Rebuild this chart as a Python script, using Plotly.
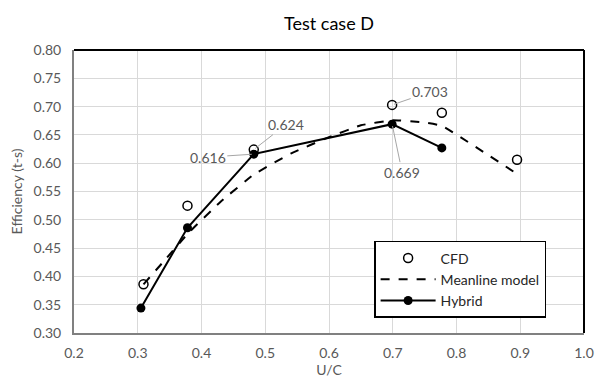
import plotly.graph_objects as go

cfd_x = [0.309, 0.378, 0.482, 0.699, 0.777, 0.895]
cfd_y = [0.386, 0.525, 0.624, 0.703, 0.689, 0.606]

mean_x = [0.309, 0.345, 0.378, 0.43, 0.482, 0.54, 0.60, 0.65, 0.70, 0.75, 0.777, 0.895]
mean_y = [0.386, 0.432, 0.475, 0.532, 0.580, 0.617, 0.646, 0.667, 0.676, 0.672, 0.666, 0.581]

hyb_x = [0.305, 0.378, 0.482, 0.699, 0.777]
hyb_y = [0.344, 0.486, 0.616, 0.669, 0.627]

x_ticks = [0.2, 0.3, 0.4, 0.5, 0.6, 0.7, 0.8, 0.9, 1.0]
y_ticks = [0.30, 0.35, 0.40, 0.45, 0.50, 0.55, 0.60, 0.65, 0.70, 0.75, 0.80]

labels = [
    # x, y, text, ax, ay
    (0.482, 0.624, "0.624", 32, -25),
    (0.482, 0.616, "0.616", -46, 3),
    (0.699, 0.703, "0.703", 38, -13),
    (0.699, 0.669, "0.669", 10, 48),
]

FONT = "Lato"

fig = go.Figure()
fig.add_trace(go.Scatter(
    x=cfd_x, y=cfd_y, mode="markers", name="CFD",
    marker=dict(symbol="circle-open", size=9, color="black", line=dict(width=1.5, color="black")),
))
fig.add_trace(go.Scatter(
    x=mean_x, y=mean_y, mode="lines", name="Meanline model",
    line=dict(color="black", width=2, dash="dash", shape="spline", smoothing=0.3),
))
fig.add_trace(go.Scatter(
    x=hyb_x, y=hyb_y, mode="lines+markers", name="Hybrid",
    line=dict(color="black", width=2),
    marker=dict(symbol="circle", size=9, color="black"),
))

for (x, y, t, ax, ay) in labels:
    fig.add_annotation(
        x=x, y=y, text=t, showarrow=True, arrowhead=0, arrowwidth=1,
        arrowcolor="#a6a6a6", ax=ax, ay=ay, standoff=2,
        font=dict(family=FONT, size=14, color="#595959"),
    )

# top and right black border of plot area
fig.add_shape(type="line", xref="paper", yref="paper", x0=0, x1=1, y0=1, y1=1,
              line=dict(color="black", width=2))
fig.add_shape(type="line", xref="paper", yref="paper", x0=1, x1=1, y0=0, y1=1,
              line=dict(color="black", width=2))

fig.update_layout(
    width=606, height=387,
    margin=dict(l=74, r=12, t=50, b=51),
    paper_bgcolor="white", plot_bgcolor="white",
    font=dict(family=FONT, size=14, color="#595959"),
    title=dict(text="Test case D", x=0.5, xref="paper", xanchor="center",
               y=1 - 24 / 387, yanchor="middle", yref="container",
               font=dict(family=FONT, size=18, color="black")),
    xaxis=dict(
        range=[0.2, 1.0], tickvals=x_ticks, ticktext=[f"{v:.1f}" for v in x_ticks],
        showgrid=True, gridcolor="#d9d9d9", gridwidth=1,
        showline=True, linecolor="#808080", linewidth=2,
        ticks="", zeroline=False, ticklabelstandoff=6,
        tickfont=dict(family=FONT, size=14, color="#595959"),
        title=dict(text="U/C", font=dict(family=FONT, size=14, color="#595959"), standoff=4),
    ),
    yaxis=dict(
        range=[0.30, 0.80], tickvals=y_ticks, ticktext=[f"{v:.2f}" for v in y_ticks],
        showgrid=True, gridcolor="#d9d9d9", gridwidth=1,
        showline=True, linecolor="#808080", linewidth=2,
        ticks="", zeroline=False, ticklabelstandoff=8,
        tickfont=dict(family=FONT, size=14, color="#595959"),
        title=dict(text="Efficiency (t-s)", font=dict(family=FONT, size=14, color="#595959"), standoff=8),
    ),
    legend=dict(
        x=(380 - 74) / 520, y=1 - (243 - 50) / 286, xanchor="left", yanchor="top",
        bgcolor="white", bordercolor="black", borderwidth=1.5,
        font=dict(family=FONT, size=14, color="#262626"),
        tracegroupgap=2, itemwidth=55,
    ),
    showlegend=True,
)

fig.write_html("out.html")
